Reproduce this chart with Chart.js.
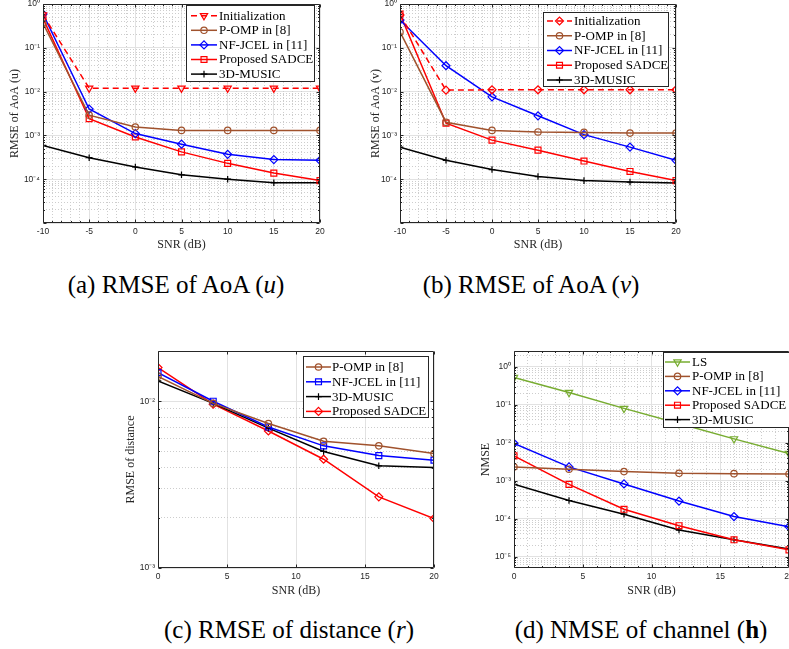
<!DOCTYPE html>
<html lang="en">
<head>
<meta charset="UTF-8">
<title>RMSE / NMSE versus SNR</title>
<script src="https://cdn.jsdelivr.net/npm/chart.js"></script>
<style>
  html, body { margin: 0; padding: 0; background: #fff; width: 789px; height: 649px; overflow: hidden; }
  canvas { position: absolute; }
  .cap {
    position: absolute; white-space: nowrap; color: #000;
    font-family: 'Liberation Serif', 'Times New Roman', serif; font-size: 25px;
    transform: translate(-50%, -50%);
  }
</style>
</head>
<body>
<canvas id="chartA" width="328" height="262" style="left:4px;top:-6px"></canvas>
<canvas id="chartB" width="323" height="262" style="left:365px;top:-6px"></canvas>
<canvas id="chartC" width="326" height="261" style="left:120px;top:341px"></canvas>
<canvas id="chartD" width="325" height="261" style="left:475px;top:341px"></canvas>

<div class="cap" style="left:176px;top:285px">(a) RMSE of AoA (<i>u</i>)</div>
<div class="cap" style="left:531px;top:285px">(b) RMSE of AoA (<i>v</i>)</div>
<div class="cap" style="left:289px;top:630px">(c) RMSE of distance (<i>r</i>)</div>
<div class="cap" style="left:641px;top:630px">(d) NMSE of channel (<b>h</b>)</div>

<script>
// SNR points
const snrAB = [-10, -5, 0, 5, 10, 15, 20];
const snrCD = [0, 4, 8, 12, 16, 20];

// (a) RMSE of AoA (u)
const aInit   = [0.56, 0.012, 0.012, 0.012, 0.012, 0.012, 0.012];
const aPomp   = [0.36, 0.0029, 0.00155, 0.0013, 0.0013, 0.0013, 0.0013];
const aNfjcel = [0.59, 0.0040, 0.0011, 0.00063, 0.00037, 0.00028, 0.00027];
const aSadce  = [0.47, 0.0024, 0.00092, 0.00042, 0.00023, 0.000138, 0.000093];
const aMusic  = [0.00059, 0.00031, 0.00019, 0.000126, 0.0001, 0.000083, 0.000083];

// (b) RMSE of AoA (v)
const bInit   = [0.56, 0.0108, 0.011, 0.011, 0.011, 0.011, 0.011];
const bPomp   = [0.23, 0.0020, 0.0013, 0.0012, 0.00117, 0.00113, 0.00113];
const bNfjcel = [0.43, 0.039, 0.0076, 0.0028, 0.00104, 0.00054, 0.00027];
const bSadce  = [0.59, 0.0019, 0.00078, 0.00046, 0.00026, 0.00015, 0.000093];
const bMusic  = [0.00054, 0.00027, 0.000166, 0.000115, 0.000093, 0.000086, 0.000082];

// (c) RMSE of distance (r)
const cPomp   = [0.0141, 0.0097, 0.00735, 0.00575, 0.0054, 0.00485];
const cNfjcel = [0.01485, 0.0100, 0.0070, 0.0054, 0.00472, 0.00443];
const cMusic  = [0.01324, 0.0097, 0.0069, 0.0050, 0.0041, 0.0040];
const cSadce  = [0.0159, 0.0096, 0.00663, 0.00449, 0.00267, 0.00198];

// (d) NMSE of channel (h)
const dLs     = [0.52, 0.21, 0.080, 0.032, 0.0126, 0.0052];
const dPomp   = [0.0023, 0.0020, 0.00173, 0.00156, 0.00153, 0.0015];
const dNfjcel = [0.0096, 0.0023, 0.00082, 0.00029, 0.000113, 0.000061];
const dSadce  = [0.0045, 0.0008, 0.000176, 0.000065, 0.0000277, 0.000015];
const dMusic  = [0.0008, 0.0003, 0.000131, 0.00005, 0.0000277, 0.0000158];

// ticks
const xTicksAB = [-10, -5, 0, 5, 10, 15, 20];
const xTicksCD = [0, 5, 10, 15, 20];
const yLabelsAB = [1, 1e-1, 1e-2, 1e-3, 1e-4];
const yLabelsC  = [1e-2, 1e-3];
const yLabelsD  = [1, 1e-1, 1e-2, 1e-3, 1e-4, 1e-5];

const RED = '#ff0000', BROWN = '#a0522d', BLUE = '#0000ff', BLACK = '#000000', GREEN = '#77ac30';
const MAJOR_GRID = '#e2e2e2', MINOR_GRID = '#cdcdcd', AXIS = '#262626';
const TICK_FONT = { family: '"Liberation Sans", Arial, sans-serif', size: 8.5 };
const TITLE_FONT = { family: '"Liberation Serif", "Times New Roman", serif', size: 12 };

const SUP = { '-': '\u207b', '0': '\u2070', '1': '\u00b9', '2': '\u00b2', '3': '\u00b3',
  '4': '\u2074', '5': '\u2075', '6': '\u2076', '7': '\u2077', '8': '\u2078', '9': '\u2079' };
function sup(v) {
  const e = Math.round(Math.log10(v));
  return '10' + String(e).split('').map(c => SUP[c]).join('');
}
function decades(lo, hi) {
  const out = [];
  for (let e = Math.ceil(Math.log10(lo) - 1e-9); e <= Math.floor(Math.log10(hi) + 1e-9); e++) out.push(Number('1e' + e));
  return out;
}
function minorLog(lo, hi) {
  const out = [];
  for (let e = Math.floor(Math.log10(lo)); e <= Math.ceil(Math.log10(hi)); e++)
    for (let k = 2; k <= 9; k++) { const v = k * Number('1e' + e); if (v > lo && v < hi) out.push(v); }
  return out;
}
function minorLin(lo, hi, major) {
  const out = [];
  for (let v = lo; v <= hi; v++) if (!major.includes(v)) out.push(v);
  return out;
}

const MARK = {
  tri:  { pointStyle: 'triangle', pointRotation: 180, pointRadius: 4.2 },
  circ: { pointStyle: 'circle', pointRadius: 3.2 },
  dia:  { pointStyle: 'rectRot', pointRadius: 4 },
  sq:   { pointStyle: 'rect', pointRadius: 4.2 },
  plus: { pointStyle: 'cross', pointRadius: 3.3 }
};

function series(label, xs, ys, color, mark, dash) {
  return Object.assign({
    label: label,
    data: xs.map((x, i) => ({ x: x, y: ys[i] })),
    xAxisID: 'x', yAxisID: 'y',
    borderColor: color, backgroundColor: 'rgba(0,0,0,0)',
    pointBorderColor: color, pointBackgroundColor: 'rgba(0,0,0,0)',
    borderWidth: 1.5, pointBorderWidth: 1.2, borderDash: dash || [],
    tension: 0, fill: false
  }, MARK[mark]);
}

// axes box with inward ticks
const framePlugin = {
  id: 'frame',
  afterDatasetsDraw(chart) {
    const { ctx, chartArea: a } = chart;
    const L = Math.round(a.left) + 0.5, R = Math.round(a.right) - 0.5;
    const T = Math.round(a.top) + 0.5, B = Math.round(a.bottom) - 0.5;
    ctx.save();
    ctx.strokeStyle = AXIS; ctx.lineWidth = 1; ctx.setLineDash([]);
    ctx.beginPath();
    ctx.rect(L, T, R - L, B - T);
    const tick = (scale, len) => {
      scale.ticks.forEach(t => {
        const p = Math.round(scale.getPixelForValue(t.value)) + 0.5;
        if (scale.axis === 'x') {
          ctx.moveTo(p, B); ctx.lineTo(p, B - len);
          ctx.moveTo(p, T); ctx.lineTo(p, T + len);
        } else {
          ctx.moveTo(L, p); ctx.lineTo(L + len, p);
          ctx.moveTo(R, p); ctx.lineTo(R - len, p);
        }
      });
    };
    tick(chart.scales.x, 3); tick(chart.scales.y, 3);
    if (chart.scales.xm) tick(chart.scales.xm, 1.5);
    tick(chart.scales.ym, 1.5);
    ctx.stroke();
    ctx.restore();
  }
};

// MATLAB style legend box inside the axes
const boxLegend = {
  id: 'boxLegend',
  afterDatasetsDraw(chart, args, o) {
    const { ctx, chartArea: a } = chart;
    const x0 = Math.round(a.left + o.left), y0 = Math.round(a.top + o.top);
    ctx.save();
    ctx.fillStyle = '#fff';
    ctx.fillRect(x0, y0, o.width, o.height);
    ctx.strokeStyle = AXIS; ctx.lineWidth = 1;
    ctx.strokeRect(x0 + 0.5, y0 + 0.5, o.width, o.height);
    ctx.font = '13px "Liberation Serif", "Times New Roman", serif';
    ctx.textBaseline = 'middle';
    chart.data.datasets.forEach((ds, i) => {
      const y = y0 + o.firstRow + i * o.rowGap;
      const lx = x0 + o.lineOff;
      ctx.strokeStyle = ds.borderColor; ctx.lineWidth = ds.borderWidth;
      ctx.setLineDash(ds.borderDash || []);
      ctx.beginPath(); ctx.moveTo(lx, y); ctx.lineTo(lx + o.lineLen, y); ctx.stroke();
      ctx.setLineDash([]);
      ctx.fillStyle = 'rgba(0,0,0,0)';
      ctx.lineWidth = ds.pointBorderWidth;
      Chart.helpers.drawPoint(ctx, {
        pointStyle: ds.pointStyle, rotation: ds.pointRotation || 0,
        radius: ds.pointRadius, borderWidth: ds.pointBorderWidth
      }, lx + o.lineLen / 2, y);
      ctx.fillStyle = '#000';
      ctx.fillText(ds.label, x0 + o.textOff, y + 0.5);
    });
    ctx.restore();
  }
};

function makeChart(id, c) {
  const yTicks = decades(c.ymin, c.ymax);
  const scales = {
    x: {
      type: 'linear', min: c.xmin, max: c.xmax,
      afterBuildTicks: s => { s.ticks = c.xticks.map(v => ({ value: v })); },
      afterFit: s => { s.height = c.xh; },
      grid: { color: MAJOR_GRID, lineWidth: 1, drawTicks: false },
      border: { display: false },
      ticks: { font: TICK_FONT, color: AXIS, padding: 4, autoSkip: false, maxRotation: 0, callback: v => String(v) },
      title: { display: true, text: 'SNR (dB)', font: TITLE_FONT, color: AXIS, padding: { top: 0, bottom: 4 } }
    },
    y: {
      type: 'logarithmic', min: c.ymin, max: c.ymax,
      afterBuildTicks: s => { s.ticks = yTicks.map(v => ({ value: v })); },
      afterFit: s => { s.width = c.yw; },
      grid: { color: MAJOR_GRID, lineWidth: 1, drawTicks: false },
      border: { display: false },
      ticks: {
        font: TICK_FONT, color: AXIS, padding: 3, autoSkip: false,
        callback: v => c.ylabels.some(l => Math.abs(Math.log10(l) - Math.log10(v)) < 1e-6) ? sup(v) : ''
      },
      title: { display: true, text: c.ytitle, font: TITLE_FONT, color: AXIS, padding: { top: 4, bottom: 0 } }
    },
    ym: {
      type: 'logarithmic', position: 'left', min: c.ymin, max: c.ymax,
      afterBuildTicks: s => { s.ticks = minorLog(c.ymin, c.ymax).map(v => ({ value: v })); },
      afterFit: s => { s.width = 0; },
      grid: { color: MINOR_GRID, lineWidth: 1, drawTicks: false },
      border: { display: false, dash: [1, 2] },
      ticks: { display: false }
    }
  };
  if (c.xminor) {
    scales.xm = {
      type: 'linear', position: 'bottom', min: c.xmin, max: c.xmax,
      afterBuildTicks: s => { s.ticks = minorLin(c.xmin, c.xmax, c.xticks).map(v => ({ value: v })); },
      afterFit: s => { s.height = 0; },
      grid: { color: MINOR_GRID, lineWidth: 1, drawTicks: false },
      border: { display: false, dash: [1, 2] },
      ticks: { display: false }
    };
  }
  return new Chart(document.getElementById(id), {
    type: 'line',
    data: { datasets: c.datasets },
    options: {
      responsive: false, animation: false,
      layout: { padding: { top: 10, right: c.padRight, left: 0, bottom: 0 } },
      plugins: { legend: { display: false }, tooltip: { enabled: false }, boxLegend: c.legend },
      scales: scales
    },
    plugins: [framePlugin, boxLegend]
  });
}

makeChart('chartA', {
  xmin: -10, xmax: 20, xticks: xTicksAB, xminor: true,
  ymin: 1e-5, ymax: 1, ylabels: yLabelsAB, ytitle: 'RMSE of AoA (u)',
  yw: 39, xh: 33, padRight: 12,
  legend: { left: 143, top: 1, width: 128, height: 76, firstRow: 10.7, rowGap: 14.6, lineOff: 5, lineLen: 26, textOff: 33 },
  datasets: [
    series('Initialization', snrAB, aInit, RED, 'tri', [6, 4]),
    series('P-OMP in [8]', snrAB, aPomp, BROWN, 'circ'),
    series('NF-JCEL in [11]', snrAB, aNfjcel, BLUE, 'dia'),
    series('Proposed SADCE', snrAB, aSadce, RED, 'sq'),
    series('3D-MUSIC', snrAB, aMusic, BLACK, 'plus')
  ]
});

makeChart('chartB', {
  xmin: -10, xmax: 20, xticks: xTicksAB, xminor: true,
  ymin: 1e-5, ymax: 1, ylabels: yLabelsAB, ytitle: 'RMSE of AoA (v)',
  yw: 35, xh: 33, padRight: 12,
  legend: { left: 143, top: 8, width: 125, height: 74, firstRow: 9, rowGap: 14.75, lineOff: 4, lineLen: 25, textOff: 31 },
  datasets: [
    series('Initialization', snrAB, bInit, RED, 'dia', [6, 4]),
    series('P-OMP in [8]', snrAB, bPomp, BROWN, 'circ'),
    series('NF-JCEL in [11]', snrAB, bNfjcel, BLUE, 'dia'),
    series('Proposed SADCE', snrAB, bSadce, RED, 'sq'),
    series('3D-MUSIC', snrAB, bMusic, BLACK, 'plus')
  ]
});

makeChart('chartC', {
  xmin: 0, xmax: 20, xticks: xTicksCD, xminor: false,
  ymin: 1e-3, ymax: 0.02, ylabels: yLabelsC, ytitle: 'RMSE of distance',
  yw: 38, xh: 34, padRight: 12,
  legend: { left: 145, top: 5, width: 125, height: 61, firstRow: 11, rowGap: 14.8, lineOff: 3, lineLen: 25, textOff: 29 },
  datasets: [
    series('P-OMP in [8]', snrCD, cPomp, BROWN, 'circ'),
    series('NF-JCEL in [11]', snrCD, cNfjcel, BLUE, 'sq'),
    series('3D-MUSIC', snrCD, cMusic, BLACK, 'plus'),
    series('Proposed SADCE', snrCD, cSadce, RED, 'dia')
  ]
});

makeChart('chartD', {
  xmin: 0, xmax: 20, xticks: xTicksCD, xminor: true,
  ymin: 5e-6, ymax: 2.6, ylabels: yLabelsD, ytitle: 'NMSE',
  yw: 39, xh: 34, padRight: 11,
  legend: { left: 149, top: 1, width: 130, height: 75, firstRow: 10, rowGap: 14.4, lineOff: 2, lineLen: 25, textOff: 29 },
  datasets: [
    series('LS', snrCD, dLs, GREEN, 'tri'),
    series('P-OMP in [8]', snrCD, dPomp, BROWN, 'circ'),
    series('NF-JCEL in [11]', snrCD, dNfjcel, BLUE, 'dia'),
    series('Proposed SADCE', snrCD, dSadce, RED, 'sq'),
    series('3D-MUSIC', snrCD, dMusic, BLACK, 'plus')
  ]
});
</script>
</body>
</html>
